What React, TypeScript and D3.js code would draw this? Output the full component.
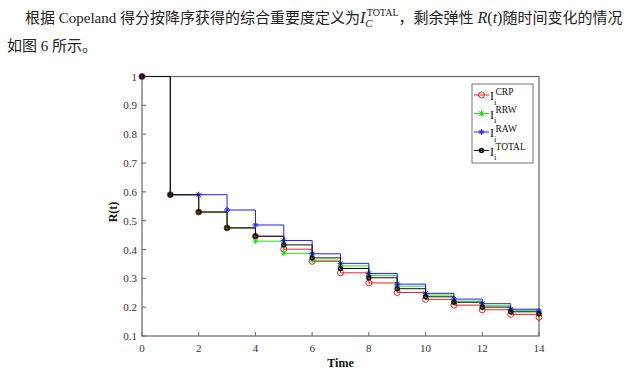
import React from "react";
import * as d3 from "d3";

const times = [0, 1, 2, 3, 4, 5, 6, 7, 8, 9, 10, 11, 12, 13, 14];
const crp = [1, 0.59, 0.53, 0.475, 0.446, 0.401, 0.359, 0.319, 0.284, 0.251, 0.227, 0.207, 0.191, 0.175, 0.165];
const rrw = [1, 0.59, 0.53, 0.475, 0.429, 0.387, 0.363, 0.343, 0.31, 0.273, 0.242, 0.221, 0.205, 0.189, 0.18];
const raw = [1, 0.59, 0.59, 0.537, 0.485, 0.431, 0.385, 0.352, 0.317, 0.28, 0.248, 0.228, 0.212, 0.193, 0.187];
const total = [1, 0.59, 0.53, 0.475, 0.446, 0.416, 0.371, 0.334, 0.302, 0.264, 0.236, 0.217, 0.2, 0.184, 0.177];
const seriesNames = ["CRP", "RRW", "RAW", "TOTAL"];
const xTicks = [0, 2, 4, 6, 8, 10, 12, 14];
const yTicks = [0.1, 0.2, 0.3, 0.4, 0.5, 0.6, 0.7, 0.8, 0.9, 1];

const seriesValues = [crp, rrw, raw, total];
const colors = ["#f02020", "#20e020", "#2020f0", "#111111"];
const markers = ["circle", "star", "star", "dot"];

const L = 142, R = 539, T = 76.5, B = 336;
const serif = "'Liberation Serif', 'Times New Roman', serif";
const cjk = "'Noto Sans CJK SC', sans-serif";

function Marker({ kind, x, y, color }: { kind: string; x: number; y: number; color: string }) {
  if (kind === "circle") {
    return <circle cx={x} cy={y} r={3} fill="none" stroke={color} strokeWidth={1} />;
  }
  if (kind === "dot") {
    return <circle cx={x} cy={y} r={1.9} fill="none" stroke={color} strokeWidth={1.6} />;
  }
  const s = 3;
  const d = `M${x - s},${y}L${x + s},${y}M${x},${y - s}L${x},${y + s}M${x - s * 0.7},${y - s * 0.7}L${x + s * 0.7},${y + s * 0.7}M${x - s * 0.7},${y + s * 0.7}L${x + s * 0.7},${y - s * 0.7}`;
  return <path d={d} stroke={color} strokeWidth={1} fill="none" />;
}

export default function App() {
  const x = d3.scaleLinear().domain([0, 14]).range([L, R]);
  const y = d3.scaleLinear().domain([0.1, 1]).range([B, T]);
  const line = d3
    .line<number>()
    .x((_, i) => x(times[i]))
    .y((d) => y(d))
    .curve(d3.curveStepAfter);

  const legendY = [95, 113.5, 132, 150.5];

  return (
    <svg
      width={639}
      height={379}
      style={{ position: "absolute", left: 0, top: 0, background: "#fff" }}
    >
      <rect x={0} y={0} width={639} height={379} fill="#fff" />
      {/* paragraph text */}
      <text x={25} y={23} fontSize={15} fill="#222" fontFamily={cjk}>
        根据<tspan fontFamily={serif}> Copeland </tspan>得分按降序获得的综合重要度定义为
        <tspan fontFamily={serif} fontStyle="italic" fontSize={16}>I</tspan>
        <tspan fontFamily={serif} fontStyle="italic" fontSize={11} dy={4}>C</tspan>
        <tspan fontFamily={serif} fontSize={10} dx={-6} dy={-11}>TOTAL</tspan>
        <tspan fontFamily={cjk} dy={7}>，剩余弹性</tspan>
        <tspan fontFamily={serif} fontSize={16}> </tspan>
        <tspan fontFamily={serif} fontStyle="italic" fontSize={16}>R</tspan>
        <tspan fontFamily={serif} fontSize={16}>(</tspan>
        <tspan fontFamily={serif} fontStyle="italic" fontSize={16}>t</tspan>
        <tspan fontFamily={serif} fontSize={16}>)</tspan>
        随时间变化的情况
      </text>
      <text x={7} y={51} fontSize={15} fill="#222" fontFamily={cjk}>
        如图<tspan fontFamily={serif}> 6 </tspan>所示。
      </text>

      {/* axes frame */}
      <rect x={L} y={T} width={R - L} height={B - T} fill="none" stroke="#666" strokeWidth={1.2} />
      {yTicks.map((t) => (
        <g key={"y" + t}>
          <line x1={L} x2={L + 4} y1={y(t)} y2={y(t)} stroke="#666" strokeWidth={1} />
          <text x={L - 5} y={y(t) + 4} textAnchor="end" fontSize={11} fontFamily={serif} fill="#333">
            {d3.format("~g")(t)}
          </text>
        </g>
      ))}
      {xTicks.map((t) => (
        <g key={"x" + t}>
          <line x1={x(t)} x2={x(t)} y1={B} y2={B - 4} stroke="#666" strokeWidth={1} />
          <text x={x(t)} y={352} textAnchor="middle" fontSize={11} fontFamily={serif} fill="#333">
            {t}
          </text>
        </g>
      ))}
      <text x={(L + R) / 2} y={367} textAnchor="middle" fontSize={12} fontWeight="bold" fontFamily={serif} fill="#111">
        Time
      </text>
      <text
        transform={`translate(117,212) rotate(-90)`}
        textAnchor="middle"
        fontSize={12}
        fontWeight="bold"
        fontFamily={serif}
        fill="#111"
      >
        R(t)
      </text>

      {/* series */}
      {seriesValues.map((vals, si) => (
        <g key={si}>
          <path d={line(vals) || ""} fill="none" stroke={colors[si]} strokeWidth={1} />
          {vals.map((v, i) => (
            <Marker key={i} kind={markers[si]} x={x(times[i])} y={y(v)} color={colors[si]} />
          ))}
        </g>
      ))}

      {/* legend */}
      <rect x={472} y={84} width={61} height={79} fill="#fff" stroke="#777" strokeWidth={1} />
      {seriesNames.map((n, i) => (
        <g key={n}>
          <line x1={474} x2={489} y1={legendY[i]} y2={legendY[i]} stroke={colors[i]} strokeWidth={1} />
          <Marker kind={markers[i]} x={481.5} y={legendY[i]} color={colors[i]} />
          <text x={490} y={legendY[i] + 5} fontSize={12} fontFamily={serif} fill="#111">I</text>
          <text x={494} y={legendY[i] + 9.5} fontSize={8.5} fontFamily={serif} fill="#111">i</text>
          <text x={495.5} y={legendY[i] - 0.5} fontSize={9.5} fontFamily={serif} fill="#111">{n}</text>
        </g>
      ))}
    </svg>
  );
}
